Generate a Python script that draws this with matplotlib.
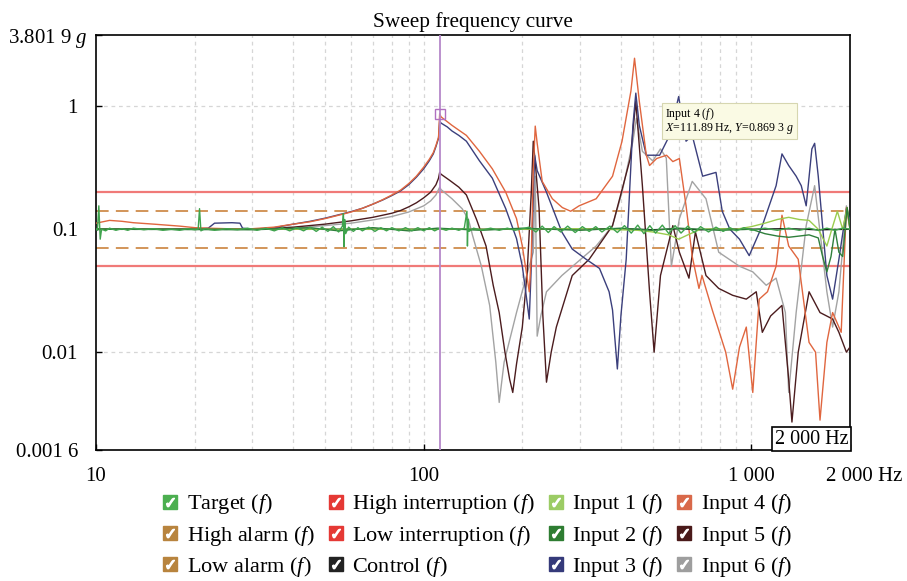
import matplotlib
matplotlib.use('Agg')
import matplotlib.pyplot as plt
from matplotlib.lines import Line2D
from matplotlib.ticker import NullLocator
from matplotlib.transforms import ScaledTranslation

plt.rcParams['font.family'] = ['Liberation Serif', 'DejaVu Serif']
plt.rcParams['mathtext.fontset'] = 'custom'
plt.rcParams['mathtext.rm'] = 'Liberation Serif'
plt.rcParams['mathtext.it'] = 'Liberation Serif:italic'

# axis range and labels
x_min, x_max = 10, 2000
y_min, y_max = 0.0016, 3.8019
x_ticks = [10, 100, 1000, 2000]
x_labels = ['10', '100', '1 000', '2 000 Hz']
y_ticks = [0.0016, 0.01, 0.1, 1, 3.8019]
y_labels = ['0.001 6', '0.01', '0.1', '1', '3.801 9 $g$']
grid_x = [20, 30, 40, 50, 60, 70, 80, 90, 100, 200, 300, 400, 500, 600, 700, 800, 900, 1000]
grid_y = [0.01, 0.1, 1]

# limits
high_interruption = 0.2
low_interruption = 0.05
high_alarm = 0.1413
low_alarm = 0.0708

# cursor
cursor_x = 111.89
cursor_y = 0.8693

# (frequency Hz, amplitude g)
target = [(10, 0.1), (10.1, 0.098), (10.2, 0.155), (10.3, 0.083), (10.4, 0.1), (10.7, 0.097), (11, 0.102),
          (11.5, 0.098), (12, 0.101), (12.5, 0.098), (13, 0.102), (14, 0.099), (15, 0.101), (16, 0.098),
          (17, 0.1), (18, 0.098), (19, 0.101), (20, 0.099), (20.5, 0.1), (20.7, 0.147), (20.9, 0.097),
          (21.5, 0.101), (23, 0.098), (25, 0.101), (27, 0.099), (29, 0.102), (31, 0.098), (33, 0.102),
          (35, 0.097), (37, 0.103), (39, 0.097), (41, 0.103), (43, 0.097), (45, 0.104), (47, 0.096),
          (49, 0.104), (51, 0.096), (53, 0.105), (55, 0.095), (56.5, 0.106), (56.9, 0.134), (57.1, 0.072),
          (57.4, 0.12), (57.8, 0.092), (59, 0.104), (61, 0.096), (63, 0.103), (65, 0.097), (68, 0.104),
          (71, 0.096), (74, 0.103), (77, 0.097), (80, 0.103), (84, 0.097), (88, 0.103), (92, 0.097),
          (96, 0.103), (100, 0.097), (104, 0.103), (108, 0.097), (112, 0.102), (117, 0.098), (122, 0.102),
          (128, 0.098), (133, 0.102), (135.5, 0.14), (136, 0.073), (136.6, 0.12), (137.5, 0.096),
          (142, 0.102), (150, 0.098), (160, 0.102), (170, 0.098), (180, 0.102), (190, 0.098), (200, 0.101),
          (210, 0.104), (220, 0.095), (230, 0.106), (240, 0.094), (250, 0.105), (262, 0.095), (275, 0.106),
          (290, 0.094), (305, 0.105), (320, 0.096), (335, 0.105), (350, 0.095), (370, 0.106), (390, 0.094),
          (410, 0.107), (430, 0.093), (450, 0.108), (470, 0.092), (490, 0.107), (510, 0.093), (535, 0.108),
          (560, 0.092), (585, 0.107), (610, 0.093), (640, 0.106), (670, 0.094), (700, 0.105), (740, 0.095),
          (780, 0.104), (820, 0.096), (860, 0.103), (900, 0.097), (950, 0.103), (1000, 0.098), (1100, 0.102),
          (1200, 0.098), (1300, 0.102), (1400, 0.098), (1500, 0.102), (1600, 0.098), (1700, 0.102),
          (1800, 0.098), (1900, 0.102), (2000, 0.1)]

control = [(10, 0.1), (50, 0.1), (100, 0.1), (200, 0.1), (400, 0.101), (500, 0.099), (600, 0.101),
           (700, 0.099), (800, 0.101), (1000, 0.1), (1300, 0.101), (1600, 0.099), (2000, 0.1)]

input1 = [(10, 0.1), (50, 0.1), (100, 0.1), (200, 0.1), (300, 0.101), (400, 0.099), (450, 0.098),
          (500, 0.095), (560, 0.09), (600, 0.083), (640, 0.09), (700, 0.1), (800, 0.101), (900, 0.1),
          (1000, 0.105), (1100, 0.112), (1200, 0.12), (1300, 0.125), (1400, 0.12), (1500, 0.118),
          (1600, 0.1), (1700, 0.073), (1760, 0.1), (1830, 0.14), (1900, 0.1), (1960, 0.15), (2000, 0.1)]

input2 = [(10, 0.1), (30, 0.099), (45, 0.103), (55, 0.097), (70, 0.103), (90, 0.097), (110, 0.102),
          (150, 0.098), (200, 0.102), (300, 0.098), (400, 0.102), (500, 0.098), (600, 0.102), (800, 0.098),
          (1000, 0.1), (1100, 0.092), (1200, 0.088), (1300, 0.086), (1400, 0.088), (1500, 0.09),
          (1600, 0.085), (1650, 0.06), (1700, 0.045), (1750, 0.06), (1800, 0.1), (1850, 0.065),
          (1900, 0.06), (1960, 0.15), (2000, 0.1)]

input3 = [(10, 0.1), (12, 0.101), (15, 0.1), (18, 0.101), (20, 0.1), (22, 0.102), (23, 0.112), (26, 0.113),
          (27.5, 0.112), (28, 0.102), (30, 0.1), (35, 0.103), (40, 0.11), (45, 0.116), (50, 0.123),
          (55, 0.131), (60, 0.139), (65, 0.148), (70, 0.16), (75, 0.173), (80, 0.188), (85, 0.205),
          (90, 0.23), (95, 0.265), (100, 0.31), (104, 0.36), (107, 0.41), (109, 0.47), (111, 0.55),
          (111.89, 0.76), (113, 0.73), (118, 0.68), (122, 0.63), (128, 0.58), (135, 0.52), (148, 0.36),
          (162, 0.26), (178, 0.147), (192, 0.084), (200, 0.05), (207, 0.025), (210, 0.0186), (213, 0.05),
          (218, 0.4), (222, 0.3), (237, 0.2), (264, 0.095), (284, 0.069), (313, 0.057), (344, 0.048),
          (368, 0.031), (377, 0.022), (390, 0.0073), (400, 0.02), (415, 0.057), (435, 0.7), (444, 1.28),
          (455, 0.7), (478, 0.4), (525, 0.4), (563, 0.58), (600, 1.2), (632, 0.52), (660, 0.58),
          (710, 0.27), (780, 0.29), (815, 0.14), (860, 0.1), (920, 0.083), (985, 0.061), (1080, 0.107),
          (1190, 0.226), (1240, 0.41), (1300, 0.33), (1370, 0.27), (1420, 0.226), (1470, 0.155),
          (1530, 0.45), (1560, 0.5), (1600, 0.27), (1700, 0.042), (1770, 0.027), (1850, 0.057),
          (1950, 0.147), (2000, 0.12)]

input4 = [(10, 0.112), (11, 0.118), (12, 0.116), (13, 0.113), (15, 0.11), (18, 0.106), (20, 0.103),
          (22, 0.102), (25, 0.101), (28, 0.1), (30, 0.101), (35, 0.104), (40, 0.11), (45, 0.115),
          (50, 0.122), (55, 0.13), (60, 0.138), (65, 0.148), (70, 0.16), (75, 0.174), (80, 0.19),
          (85, 0.208), (90, 0.235), (95, 0.27), (100, 0.32), (104, 0.37), (107, 0.42), (109, 0.48),
          (111, 0.56), (111.89, 0.869), (113, 0.82), (118, 0.75), (122, 0.7), (128, 0.64), (135, 0.58),
          (148, 0.43), (162, 0.31), (178, 0.2), (192, 0.122), (200, 0.073), (207, 0.04), (210, 0.031),
          (213, 0.06), (216, 0.3), (219, 0.69), (222, 0.5), (230, 0.245), (247, 0.177), (265, 0.15),
          (281, 0.14), (298, 0.155), (336, 0.177), (377, 0.27), (403, 0.52), (429, 1.33), (440, 2.46),
          (455, 1.1), (478, 0.4), (489, 0.33), (514, 0.376), (551, 0.4), (576, 0.355), (603, 0.376),
          (632, 0.155), (660, 0.06), (692, 0.033), (707, 0.042), (760, 0.022), (835, 0.01), (877, 0.005),
          (920, 0.011), (965, 0.016), (1010, 0.0047), (1057, 0.027), (1120, 0.031), (1190, 0.05),
          (1240, 0.13), (1300, 0.073), (1390, 0.057), (1500, 0.012), (1570, 0.01), (1620, 0.0028),
          (1700, 0.012), (1770, 0.021), (1880, 0.0145), (1950, 0.15), (2000, 0.1)]

input5 = [(10, 0.1), (15, 0.1), (20, 0.1), (30, 0.1), (40, 0.104), (50, 0.11), (60, 0.117), (70, 0.125),
          (80, 0.135), (85, 0.142), (90, 0.152), (95, 0.164), (100, 0.18), (105, 0.2), (109, 0.23),
          (111, 0.26), (111.89, 0.29), (113, 0.28), (120, 0.25), (128, 0.22), (135, 0.19), (145, 0.12),
          (155, 0.073), (163, 0.035), (170, 0.021), (177, 0.01), (183, 0.006), (187, 0.0047), (192, 0.008),
          (200, 0.016), (207, 0.045), (213, 0.2), (216, 0.52), (219, 0.35), (225, 0.147), (231, 0.02),
          (237, 0.0057), (245, 0.01), (254, 0.016), (284, 0.042), (320, 0.057), (377, 0.107), (427, 0.376),
          (444, 1.1), (465, 0.226), (489, 0.031), (505, 0.01), (528, 0.042), (576, 0.107), (603, 0.065),
          (645, 0.04), (675, 0.095), (727, 0.042), (795, 0.033), (877, 0.029), (965, 0.027), (1035, 0.031),
          (1080, 0.0145), (1145, 0.0197), (1240, 0.024), (1300, 0.006), (1330, 0.0027), (1390, 0.01),
          (1500, 0.031), (1620, 0.021), (1770, 0.0186), (1850, 0.0145), (1950, 0.01), (2000, 0.011)]

input6 = [(10, 0.1), (15, 0.1), (20, 0.1), (30, 0.1), (40, 0.102), (50, 0.107), (60, 0.112), (70, 0.119),
          (80, 0.127), (90, 0.138), (100, 0.155), (105, 0.17), (109, 0.19), (111.89, 0.22), (113, 0.21),
          (122, 0.177), (131, 0.147), (137, 0.12), (141, 0.089), (150, 0.05), (159, 0.024), (166, 0.0083),
          (170, 0.0039), (176, 0.0083), (192, 0.021), (205, 0.04), (216, 0.065), (219, 0.27), (222, 0.0135),
          (228, 0.02), (237, 0.031), (264, 0.042), (336, 0.073), (377, 0.107), (403, 0.2), (435, 0.52),
          (446, 0.8), (465, 0.43), (500, 0.36), (528, 0.45), (550, 0.38), (570, 0.05), (603, 0.122),
          (660, 0.245), (727, 0.177), (795, 0.065), (920, 0.05), (1010, 0.045), (1110, 0.035), (1190, 0.04),
          (1270, 0.021), (1300, 0.0047), (1370, 0.021), (1470, 0.107), (1560, 0.226), (1620, 0.095),
          (1700, 0.031), (1770, 0.016), (1850, 0.031), (1950, 0.155), (2000, 0.12)]

fig = plt.figure(figsize=(9.07, 5.81), dpi=100)
ax = fig.add_axes([96 / 907, 1 - 450 / 581, 754 / 907, 415 / 581])
ax.set_xscale('log')
ax.set_yscale('log')
ax.set_xlim(x_min, x_max)
ax.set_ylim(y_min, y_max)

# dashed light grid
for f in grid_x:
    ax.axvline(f, color='#d6d6d6', lw=0.9, ls=(0, (3, 3)), zorder=0)
for v in grid_y:
    ax.axhline(v, color='#d6d6d6', lw=0.9, ls=(0, (3, 3)), zorder=0)

# limit lines
ax.axhline(high_interruption, color='#f07a78', lw=1.6, zorder=1)
ax.axhline(low_interruption, color='#f07a78', lw=1.6, zorder=1)
ax.axhline(high_alarm, color='#cf8c4c', lw=1.3, ls=(0, (7, 4)), zorder=1)
ax.axhline(low_alarm, color='#cf8c4c', lw=1.3, ls=(0, (7, 4)), zorder=1)


def draw(points, color, z):
    f, v = zip(*points)  # split pairs into frequency and amplitude
    ax.plot(f, v, color=color, lw=1.0, zorder=z)


draw(input6, '#a3a3a3', 2)
draw(input5, '#4b1c1e', 3)
draw(input3, '#3b3f7c', 4)
draw(input4, '#e0663f', 5)
draw(control, '#111111', 6)
draw(input1, '#9bcc4e', 7)
draw(input2, '#2f7f3b', 8)
draw(target, '#3fa34d', 9)

# cursor
ax.axvline(cursor_x, color='#b588c9', lw=1.3, zorder=10)
ax.plot([cursor_x], [cursor_y], marker='s', ms=7, mfc='none', mec='#b070c0', mew=1.0, zorder=11)

ax.text(0.755, 0.83, 'Input 4 ($f$)\n$X$=111.89 Hz, $Y$=0.869 3 $g$', transform=ax.transAxes,
        fontsize=8.6, ha='left', va='top', linespacing=0.95, zorder=12,
        bbox=dict(boxstyle='square,pad=0.25', fc='#fafae4', ec='#d6d6b0', lw=0.8))

ax.text(0.998, 0.003, '2 000 Hz', transform=ax.transAxes, fontsize=14.5, ha='right', va='bottom',
        zorder=12, bbox=dict(boxstyle='square,pad=0.12', fc='white', ec='black', lw=1.2))

# ticks
ax.set_xticks(x_ticks)
ax.set_xticklabels(x_labels)
ax.set_yticks(y_ticks)
ax.set_yticklabels(y_labels)
ax.xaxis.set_minor_locator(NullLocator())
ax.yaxis.set_minor_locator(NullLocator())
ax.tick_params(axis='both', direction='in', length=4, width=1, labelsize=15)
ax.tick_params(axis='x', pad=12)
ax.tick_params(axis='y', pad=13)
# "2 000" sits on its tick, "Hz" hangs to the right
last = ax.get_xticklabels()[-1]
last.set_transform(last.get_transform() + ScaledTranslation(0.145, 0, fig.dpi_scale_trans))
# the unit "g" of the top label hangs past the other labels
top = ax.get_yticklabels()[-1]
top.set_transform(top.get_transform() + ScaledTranslation(0.1, 0, fig.dpi_scale_trans))

for s in ax.spines.values():
    s.set_linewidth(1.2)
    s.set_color('black')

ax.set_title('Sweep frequency curve', fontsize=15.3, pad=6)

# legend with check boxes
names = ['Target', 'High alarm', 'Low alarm', 'High interruption', 'Low interruption', 'Control',
         'Input 1', 'Input 2', 'Input 3', 'Input 4', 'Input 5', 'Input 6']
box_colors = ['#4caf50', '#b8843e', '#b8843e', '#e53935', '#e53935', '#222222',
              '#9ccc65', '#2e7d32', '#353a7a', '#d9694a', '#4a1a1a', '#9e9e9e']
handles = []
for c in box_colors:
    box = Line2D([], [], marker='s', ms=10, color=c, ls='none')
    tick = Line2D([], [], marker=r'$\checkmark$', ms=6, color='white', ls='none')
    handles.append((box, tick))
labels = [n + ' ($f$)' for n in names]
fig.legend(handles, labels, ncol=4, loc='upper center', bbox_to_anchor=(0.525, 0.187), frameon=False,
           fontsize=16, handlelength=0.9, handletextpad=0.3, columnspacing=0.48, labelspacing=0.33)

fig.savefig('out.png', dpi=100)
